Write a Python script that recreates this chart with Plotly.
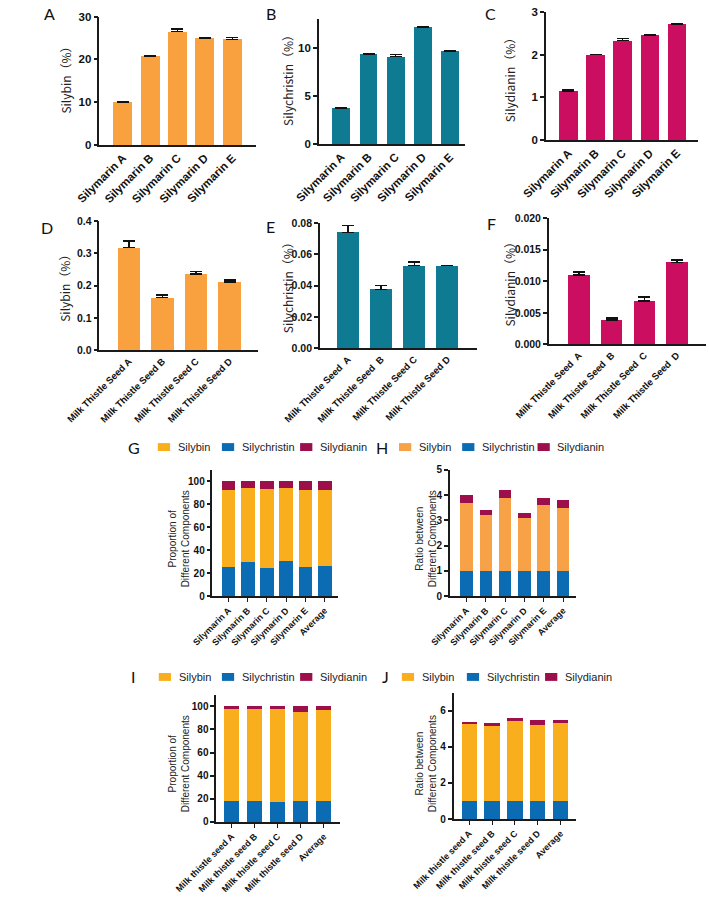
import plotly.graph_objects as go

W, H = 709, 902

# ---------------- data ----------------
silymarin_labels = ["Silymarin A", "Silymarin B", "Silymarin C", "Silymarin D", "Silymarin E"]
seed_labels_D = ["Milk Thistle Seed A", "Milk Thistle Seed B", "Milk Thistle Seed C", "Milk Thistle Seed D"]
seed_labels_E = ["Milk Thistle Seed\u00a0 A", "Milk Thistle Seed\u00a0 B", "Milk Thistle Seed C", "Milk Thistle Seed D"]
seed_labels_F = ["Milk Thistle Seed\u00a0 A", "Milk Thistle Seed\u00a0 B", "Milk Thistle Seed\u00a0 C", "Milk Thistle Seed\u00a0 D"]
ratio_labels_GH = ["Silymarin A", "Silymarin B", "Silymarin C", "Silymarin D", "Silymarin E", "Average"]
ratio_labels_IJ = ["Milk thistle seed A", "Milk thistle seed B", "Milk thistle seed C", "Milk thistle seed D", "Average"]

silybin_silymarin = [10.0, 20.7, 26.5, 24.9, 24.7]
silybin_silymarin_err = [0.1, 0.1, 0.6, 0.1, 0.4]
silychristin_silymarin = [3.75, 9.3, 9.05, 12.1, 9.65]
silychristin_silymarin_err = [0.03, 0.08, 0.25, 0.05, 0.04]
silydianin_silymarin = [1.15, 2.0, 2.33, 2.45, 2.72]
silydianin_silymarin_err = [0.02, 0.01, 0.05, 0.01, 0.01]

silybin_seed = [0.318, 0.163, 0.236, 0.212]
silybin_seed_err = [0.021, 0.009, 0.008, 0.005]
silychristin_seed = [0.0741, 0.0377, 0.0528, 0.0528]
silychristin_seed_err = [0.0042, 0.0025, 0.0025, 0.0]
silydianin_seed = [0.0110, 0.0039, 0.0069, 0.0130]
silydianin_seed_err = [0.0005, 0.0003, 0.0006, 0.0004]

prop_silychristin = [25, 29.5, 24, 30.5, 25.5, 26.5]
prop_silybin = [67.5, 64.5, 69, 63.5, 67, 65.5]
prop_silydianin = [7.5, 6, 7, 6, 7.5, 8]

ratio_silychristin = [1, 1, 1, 1, 1, 1]
ratio_silybin = [2.7, 2.2, 2.9, 2.1, 2.6, 2.5]
ratio_silydianin = [0.3, 0.2, 0.3, 0.2, 0.3, 0.3]

seed_prop_silychristin = [18.5, 18.5, 17.5, 18, 18]
seed_prop_silybin = [80, 80, 81, 77, 78.5]
seed_prop_silydianin = [1.5, 1.5, 1.5, 5, 3.5]

seed_ratio_silychristin = [1, 1, 1, 1, 1]
seed_ratio_silybin = [4.3, 4.2, 4.5, 4.2, 4.3]
seed_ratio_silydianin = [0.1, 0.1, 0.1, 0.3, 0.2]

series_names = ["Silybin", "Silychristin", "Silydianin"]

# ---------------- styles ----------------
C_ORANGE = "#F9A13F"
C_TEAL = "#0F7B92"
C_MAGENTA = "#CB0E60"
C_SILYBIN = "#F9AE1E"
C_SILYBIN_H = "#F8A248"
C_SILYCHRISTIN = "#0C6CB3"
C_SILYDIANIN = "#9C0F4B"
AX = "#1a1a1a"
BOLD = "Liberation Sans, Arial"
SANS = "Liberation Sans, Arial"
CJK = "Noto Sans CJK SC, Noto Sans"
LETTER = "Lato, Open Sans"

fig = go.Figure()

panels = {
    "A": dict(px=(62, 228, 10.7, 141), xr=(-0.85, 4.86), yr=(0, 30), yt=[0, 10, 20, 30], fmt="d"),
    "B": dict(px=(295, 450, 12.7, 140), xr=(-0.83, 4.56), yr=(0, 13), yt=[0, 5, 10], fmt="d"),
    "C": dict(px=(536, 697, 6, 136), xr=(-0.83, 4.77), yr=(0, 3), yt=[0, 1, 2, 3], fmt="d"),
    "D": dict(px=(62, 230, 218, 349), xr=(-0.88, 3.84), yr=(0, 0.4), yt=[0, 0.1, 0.2, 0.3, 0.4], fmt=".1f"),
    "E": dict(px=(296, 463, 220, 347), xr=(-0.85, 3.9), yr=(0, 0.08), yt=[0, 0.02, 0.04, 0.06, 0.08], fmt=".2f"),
    "F": dict(px=(539, 706, 215, 343), xr=(-0.93, 3.9), yr=(0, 0.02), yt=[0, 0.005, 0.01, 0.015, 0.02], fmt=".3f"),
    "G": dict(px=(182, 315, 470, 598), xr=(-0.83, 5.68), yr=(0, 110), yt=[0, 20, 40, 60, 80, 100], fmt="d"),
    "H": dict(px=(434, 568, 470, 598), xr=(-0.86, 5.68), yr=(0, 5), yt=[0, 1, 2, 3, 4, 5], fmt="d"),
    "I": dict(px=(186, 317, 698, 827), xr=(-0.67, 4.69), yr=(0, 110), yt=[0, 20, 40, 60, 80, 100], fmt="d"),
    "J": dict(px=(438, 568, 696, 824), xr=(-0.68, 4.68), yr=(0, 7), yt=[0, 2, 4, 6], fmt="d"),
}

layout_axes = {}
for i, (key, p) in enumerate(panels.items(), start=1):
    x0, x1, yt_, yb = p["px"]
    sfx = "" if i == 1 else str(i)
    p["xref"] = "x" + sfx
    p["yref"] = "y" + sfx
    small = key in "GHIJ"
    row1 = key in "ABC"
    xsize = 9 if small else (11.5 if row1 else 9.5)
    ysize = 10 if small else (11.5 if row1 else 10.5)
    layout_axes["xaxis" + sfx] = dict(
        domain=[x0 / W, x1 / W], anchor="y" + sfx, type="category", range=list(p["xr"]),
        showline=True, linecolor=AX, linewidth=1.5, showgrid=False, zeroline=False,
        ticks="outside" if small else "", ticklen=4, tickwidth=1.3, tickcolor=AX,
        tickangle=-45, tickfont=dict(family=BOLD, size=xsize, color="#111", weight="bold"), fixedrange=True,
    )
    layout_axes["yaxis" + sfx] = dict(
        domain=[1 - yb / H, 1 - yt_ / H], anchor="x" + sfx, range=list(p["yr"]),
        showline=True, linecolor=AX, linewidth=1.5, showgrid=False, zeroline=False,
        ticks="outside", ticklen=4, tickwidth=1.5, tickcolor=AX,
        tickvals=p["yt"], tickformat=p["fmt"],
        tickfont=dict(family=BOLD, size=ysize, color="#111", weight="bold"), fixedrange=True,
    )


def simple_bar(key, labels, values, errs, color, width):
    p = panels[key]
    fig.add_trace(go.Bar(
        x=labels, y=values, marker=dict(color=color, line=dict(width=0)), width=width,
        error_y=dict(type="data", array=errs, arrayminus=[0] * len(errs), symmetric=False,
                     color="#111", thickness=1.5, width=6),
        xaxis=p["xref"], yaxis=p["yref"], showlegend=False,
    ))


simple_bar("A", silymarin_labels, silybin_silymarin, silybin_silymarin_err, C_ORANGE, 0.69)
simple_bar("B", silymarin_labels, silychristin_silymarin, silychristin_silymarin_err, C_TEAL, 0.66)
simple_bar("C", silymarin_labels, silydianin_silymarin, silydianin_silymarin_err, C_MAGENTA, 0.68)
simple_bar("D", seed_labels_D, silybin_seed, silybin_seed_err, C_ORANGE, 0.66)
simple_bar("E", seed_labels_E, silychristin_seed, silychristin_seed_err, C_TEAL, 0.66)
simple_bar("F", seed_labels_F, silydianin_seed, silydianin_seed_err, C_MAGENTA, 0.66)


def stacked(key, labels, sc, sb, sd, silybin_color, width):
    p = panels[key]
    for name, vals, col in (("Silychristin", sc, C_SILYCHRISTIN), ("Silybin", sb, silybin_color),
                            ("Silydianin", sd, C_SILYDIANIN)):
        fig.add_trace(go.Bar(x=labels, y=vals, name=name, marker=dict(color=col, line=dict(width=0)),
                             width=width, xaxis=p["xref"], yaxis=p["yref"], showlegend=False))


stacked("G", ratio_labels_GH, prop_silychristin, prop_silybin, prop_silydianin, C_SILYBIN, 0.72)
stacked("H", ratio_labels_GH, ratio_silychristin, ratio_silybin, ratio_silydianin, C_SILYBIN_H, 0.65)
stacked("I", ratio_labels_IJ, seed_prop_silychristin, seed_prop_silybin, seed_prop_silydianin, C_SILYBIN, 0.64)
stacked("J", ratio_labels_IJ, seed_ratio_silychristin, seed_ratio_silybin, seed_ratio_silydianin, C_SILYBIN, 0.67)

annotations = []
shapes = []


def text(x, y, s, size, family, angle=0, anchor="center", color="#222", weight="normal"):
    annotations.append(dict(x=x / W, y=1 - y / H, xref="paper", yref="paper", text=s, showarrow=False,
                            textangle=angle, xanchor=anchor, yanchor="middle",
                            font=dict(size=size, family=family, color=color, weight=weight)))


# panel letters
for letter, (lx, ly) in {"A": (9, 8), "B": (244, 8), "C": (477, 8), "D": (6, 224), "E": (244, 223),
                         "F": (478, 220)}.items():
    text(lx, ly, letter, 16, LETTER, color="#111")

# y-axis titles
text(25, 72, "Silybin（%）", 12, CJK, angle=-90)
text(261, 72, "Silychristin（%）", 12, CJK, angle=-90)
text(497, 72, "Silydianin（%）", 12, CJK, angle=-90)
text(25, 283, "Silybin（%）", 12, CJK, angle=-90)
text(261, 282, "Silychristin（%）", 12, CJK, angle=-90)
text(497, 279, "Silydianin（%）", 12, CJK, angle=-90)
text(146, 540, "Proportion of<br>Different Components", 10, SANS, angle=-90)
text(408, 540, "Ratio between<br>Different Components", 10, SANS, angle=-90)
text(146, 768, "Proportion of<br>Different Components", 10, SANS, angle=-90)
text(408, 768, "Ratio between<br>Different Components", 10, SANS, angle=-90)

# legends for G-J
legend_rows = [
    ("G", 99, 447, [(124, C_SILYBIN), (192, C_SILYCHRISTIN), (275, C_SILYDIANIN)]),
    ("H", 362, 447, [(380, C_SILYBIN_H), (447, C_SILYCHRISTIN), (527, C_SILYDIANIN)]),
    ("I", 98, 680, [(125, C_SILYBIN), (192, C_SILYCHRISTIN), (275, C_SILYDIANIN)]),
    ("J", 366, 680, [(383, C_SILYBIN), (452, C_SILYCHRISTIN), (535, C_SILYDIANIN)]),
]
for letter, lx, ly, items in legend_rows:
    text(lx, ly, letter, 16, LETTER, color="#111")
    for name, (sx, col) in zip(series_names, items):
        shapes.append(dict(type="rect", xref="paper", yref="paper", x0=sx / W, x1=(sx + 13) / W,
                           y0=1 - (ly + 4) / H, y1=1 - (ly - 4) / H, fillcolor=col, line=dict(width=0)))
        text(sx + 19, ly, name, 11, SANS, anchor="left", color="#222")

fig.update_layout(
    width=W, height=H, margin=dict(l=0, r=0, t=0, b=0),
    paper_bgcolor="white", plot_bgcolor="white", barmode="stack",
    annotations=annotations, shapes=shapes, **layout_axes,
)

fig.write_html("out.html")
